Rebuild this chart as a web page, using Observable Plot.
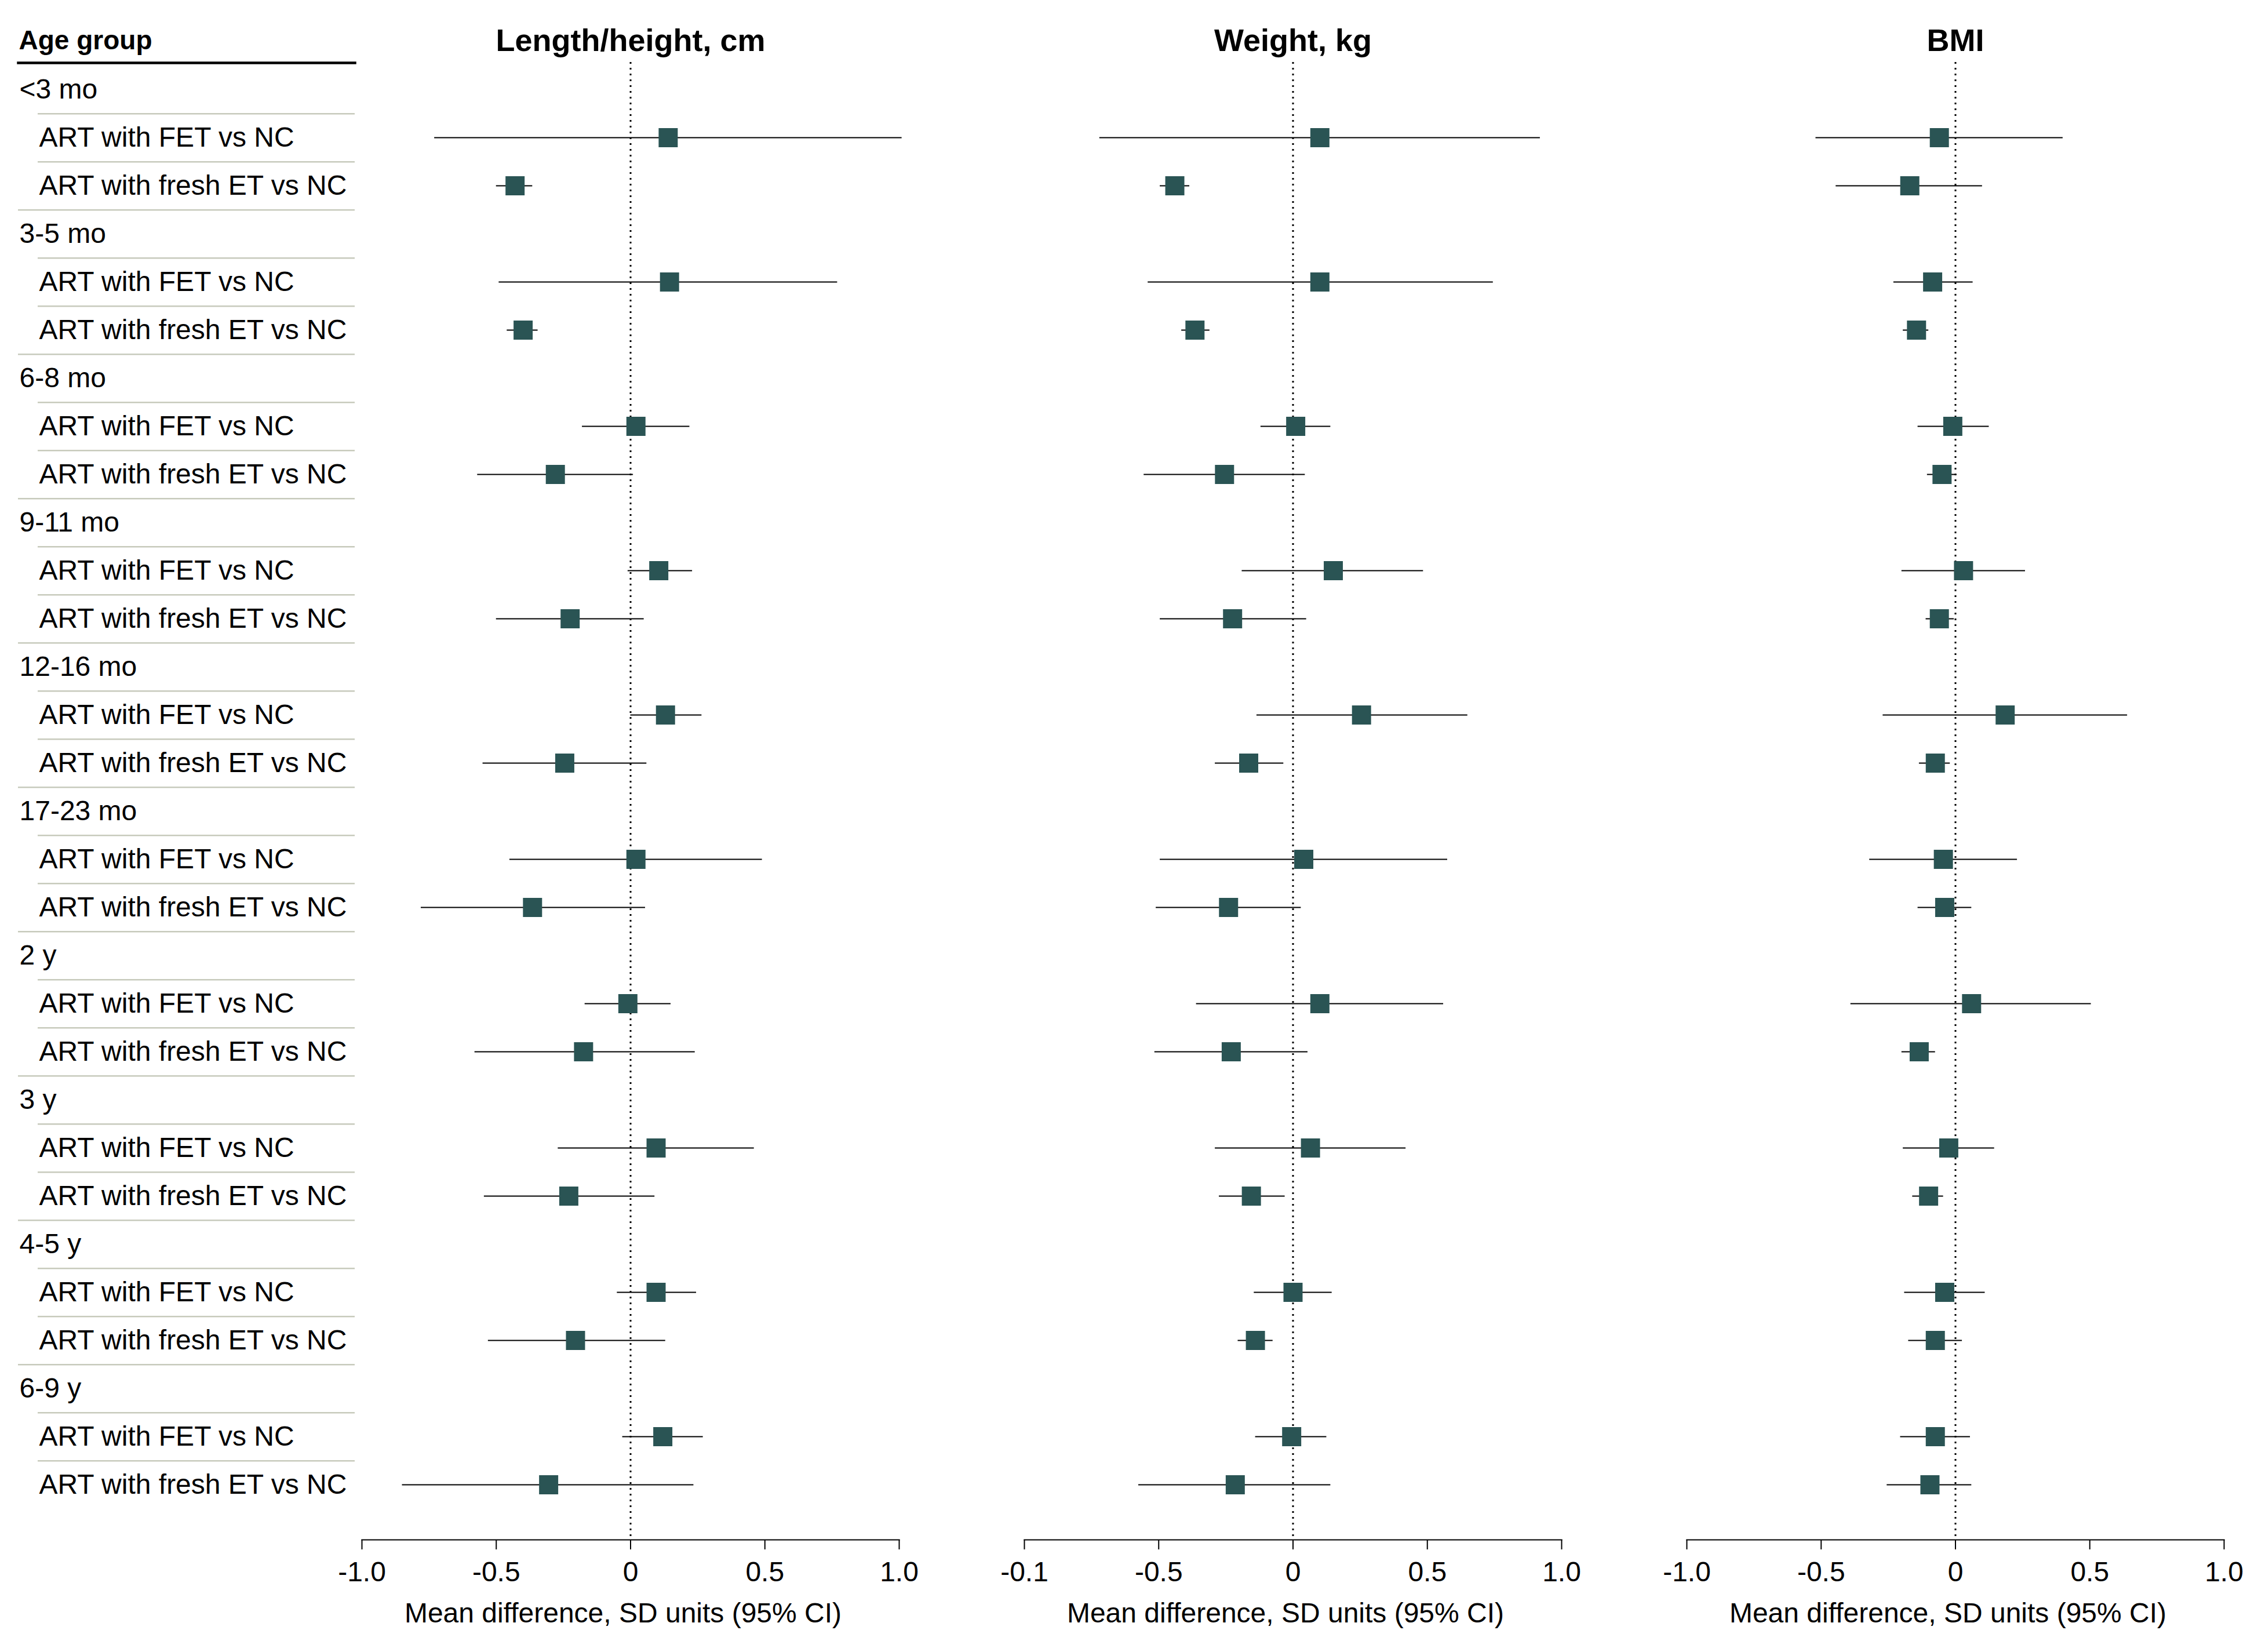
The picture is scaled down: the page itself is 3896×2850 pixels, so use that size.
<!DOCTYPE html>
<html>
<head>
<meta charset="utf-8">
<script src="https://cdn.jsdelivr.net/npm/d3@7"></script>
<script src="https://cdn.jsdelivr.net/npm/@observablehq/plot@0.6"></script>
<style>
html, body { margin: 0; padding: 0; background: #fff; }
#chart { position: relative; width: 3896px; height: 2850px; overflow: hidden; background: #fff; }
#chart > svg { position: absolute; top: 0; overflow: visible; }
</style>
</head>
<body>
<div id="chart"></div>
<script>
// ---------- data ----------
const ageGroups = ["<3 mo", "3-5 mo", "6-8 mo", "9-11 mo", "12-16 mo", "17-23 mo", "2 y", "3 y", "4-5 y", "6-9 y"];
const comparisons = ["ART with FET vs NC", "ART with fresh ET vs NC"];
const headerLabel = "Age group";
const panelTitles = ["Length/height, cm", "Weight, kg", "BMI"];
const axisTitle = "Mean difference, SD units (95% CI)";
const tickValues = [-1, -0.5, 0, 0.5, 1];
const lengthTickLabels = ["-1.0", "-0.5", "0", "0.5", "1.0"];
const weightTickLabels = ["-0.1", "-0.5", "0", "0.5", "1.0"];
const bmiTickLabels = ["-1.0", "-0.5", "0", "0.5", "1.0"];
const zeroRef = [0];

// Length/height
const lengthFetEst = [0.14, 0.145, 0.02, 0.105, 0.13, 0.02, -0.01, 0.095, 0.095, 0.12];
const lengthFetLo = [-0.73, -0.49, -0.18, -0.01, 0.0, -0.45, -0.17, -0.27, -0.05, -0.03];
const lengthFetHi = [1.01, 0.77, 0.22, 0.23, 0.265, 0.49, 0.15, 0.46, 0.245, 0.27];
const lengthFreshEst = [-0.43, -0.40, -0.28, -0.225, -0.245, -0.365, -0.175, -0.23, -0.205, -0.305];
const lengthFreshLo = [-0.50, -0.46, -0.57, -0.50, -0.55, -0.78, -0.58, -0.545, -0.53, -0.85];
const lengthFreshHi = [-0.365, -0.345, 0.01, 0.05, 0.06, 0.055, 0.24, 0.09, 0.13, 0.235];

// Weight
const weightFetEst = [0.10, 0.10, 0.01, 0.15, 0.255, 0.04, 0.10, 0.065, 0.0, -0.005];
const weightFetLo = [-0.72, -0.54, -0.12, -0.19, -0.135, -0.495, -0.36, -0.29, -0.145, -0.14];
const weightFetHi = [0.92, 0.745, 0.14, 0.485, 0.65, 0.575, 0.56, 0.42, 0.145, 0.125];
const weightFreshEst = [-0.44, -0.365, -0.255, -0.225, -0.165, -0.24, -0.23, -0.155, -0.14, -0.215];
const weightFreshLo = [-0.495, -0.415, -0.555, -0.495, -0.29, -0.51, -0.515, -0.275, -0.205, -0.575];
const weightFreshHi = [-0.385, -0.31, 0.045, 0.05, -0.035, 0.03, 0.055, -0.03, -0.075, 0.14];

// BMI
const bmiFetEst = [-0.06, -0.085, -0.01, 0.03, 0.185, -0.045, 0.06, -0.025, -0.04, -0.075];
const bmiFetLo = [-0.52, -0.23, -0.14, -0.20, -0.27, -0.32, -0.39, -0.195, -0.19, -0.205];
const bmiFetHi = [0.40, 0.065, 0.125, 0.26, 0.64, 0.23, 0.505, 0.145, 0.11, 0.055];
const bmiFreshEst = [-0.17, -0.145, -0.05, -0.06, -0.075, -0.04, -0.135, -0.10, -0.075, -0.095];
const bmiFreshLo = [-0.445, -0.195, -0.105, -0.11, -0.135, -0.14, -0.20, -0.16, -0.175, -0.255];
const bmiFreshHi = [0.10, -0.10, 0.005, -0.005, -0.02, 0.06, -0.075, -0.045, 0.025, 0.06];

// ---------- build rows ----------
const rows = [];
ageGroups.forEach((g, gi) => {
  rows.push({ id: `${gi}-h`, label: g, kind: "header", gi, ci: -1 });
  comparisons.forEach((c, ci) => rows.push({ id: `${gi}-${ci}`, label: c, kind: "sub", gi, ci }));
});
const rowIds = rows.map(r => r.id);
const lastGroup = ageGroups.length - 1;

const FONT = "'Liberation Sans', Arial, Helvetica, sans-serif";
const BOX = "#2a5454";
const SEP = "#c7cabc";
const H = 2850;
const rowTop = 150.5, rowBottom = 2565;
const halfStep = (rowBottom - rowTop) / (rowIds.length - 1) / 2;

const yScale = () => ({ type: "point", domain: rowIds, range: [rowTop, rowBottom], padding: 0, axis: null });
const baseStyle = { fontFamily: FONT, fontSize: "48px", color: "black", background: "transparent", overflow: "visible" };

const chart = document.getElementById("chart");

// ---------- label column ----------
const labelPlot = Plot.plot({
  width: 640, height: H,
  marginLeft: 31, marginRight: 28, marginTop: 108, marginBottom: 194,
  x: { domain: [0, 1], axis: null },
  y: yScale(),
  style: baseStyle,
  marks: [
    Plot.ruleY(rows.filter(r => r.kind === "header" || r.ci === 0), {
      y: "id", dy: halfStep, insetLeft: 34, stroke: SEP, strokeWidth: 2.5
    }),
    Plot.ruleY(rows.filter(r => r.ci === 1 && r.gi < lastGroup), {
      y: "id", dy: halfStep, stroke: SEP, strokeWidth: 2.5
    }),
    Plot.frame({ anchor: "top", stroke: "black", strokeWidth: 4.5 }),
    Plot.text([headerLabel], {
      frameAnchor: "top-left", dy: -38, dx: 1, text: d => d, textAnchor: "start",
      lineAnchor: "middle", fontWeight: "bold", fontSize: 46
    }),
    Plot.text(rows.filter(r => r.kind === "header"), {
      y: "id", text: "label", frameAnchor: "left", textAnchor: "start", dx: 2,
      lineAnchor: "middle", fontSize: 48
    }),
    Plot.text(rows.filter(r => r.kind === "sub"), {
      y: "id", text: "label", frameAnchor: "left", textAnchor: "start", dx: 36,
      lineAnchor: "middle", fontSize: 48
    })
  ]
});
labelPlot.style.left = "0px";
chart.appendChild(labelPlot);

// ---------- forest panels ----------
function panelData(fe, fl, fh, re, rl, rh) {
  return rows.filter(r => r.kind === "sub").map(r => r.ci === 0
    ? { id: r.id, est: fe[r.gi], lo: fl[r.gi], hi: fh[r.gi] }
    : { id: r.id, est: re[r.gi], lo: rl[r.gi], hi: rh[r.gi] });
}

function forestPanel(title, data, tickLabels, left, marginRight) {
  const p = Plot.plot({
    width: 927 + 64 + marginRight, height: H,
    marginLeft: 64, marginRight, marginTop: 107, marginBottom: 194,
    x: { domain: [-1, 1], axis: null, label: null },
    y: yScale(),
    style: baseStyle,
    marks: [
      Plot.ruleX(zeroRef, { stroke: "black", strokeWidth: 3, strokeDasharray: "3,7" }),
      Plot.ruleY(data, { y: "id", x1: "lo", x2: "hi", stroke: "black", strokeWidth: 2.2 }),
      Plot.dot(data, { x: "est", y: "id", symbol: "square", r: 18.6, fill: BOX, stroke: "none" }),
      Plot.frame({ anchor: "bottom", stroke: "black", strokeWidth: 2.2 }),
      Plot.axisX({
        ticks: tickValues, tickFormat: d => tickLabels[tickValues.indexOf(d)],
        tickSize: 17, tickPadding: 20, fontSize: 48, strokeWidth: 2, label: null
      }),
      Plot.text([title], {
        frameAnchor: "top", dy: -37, text: d => d, lineAnchor: "middle",
        fontWeight: "bold", fontSize: 54
      }),
      Plot.text([axisTitle], {
        frameAnchor: "bottom", dy: 127, dx: -13, text: d => d, lineAnchor: "middle", fontSize: 48
      })
    ]
  });
  p.style.left = left + "px";
  chart.appendChild(p);
}

forestPanel(panelTitles[0],
  panelData(lengthFetEst, lengthFetLo, lengthFetHi, lengthFreshEst, lengthFreshLo, lengthFreshHi),
  lengthTickLabels, 560, 64);
forestPanel(panelTitles[1],
  panelData(weightFetEst, weightFetLo, weightFetHi, weightFreshEst, weightFreshLo, weightFreshHi),
  weightTickLabels, 1703, 64);
forestPanel(panelTitles[2],
  panelData(bmiFetEst, bmiFetLo, bmiFetHi, bmiFreshEst, bmiFreshLo, bmiFreshHi),
  bmiTickLabels, 2846, 50);
</script>
</body>
</html>
